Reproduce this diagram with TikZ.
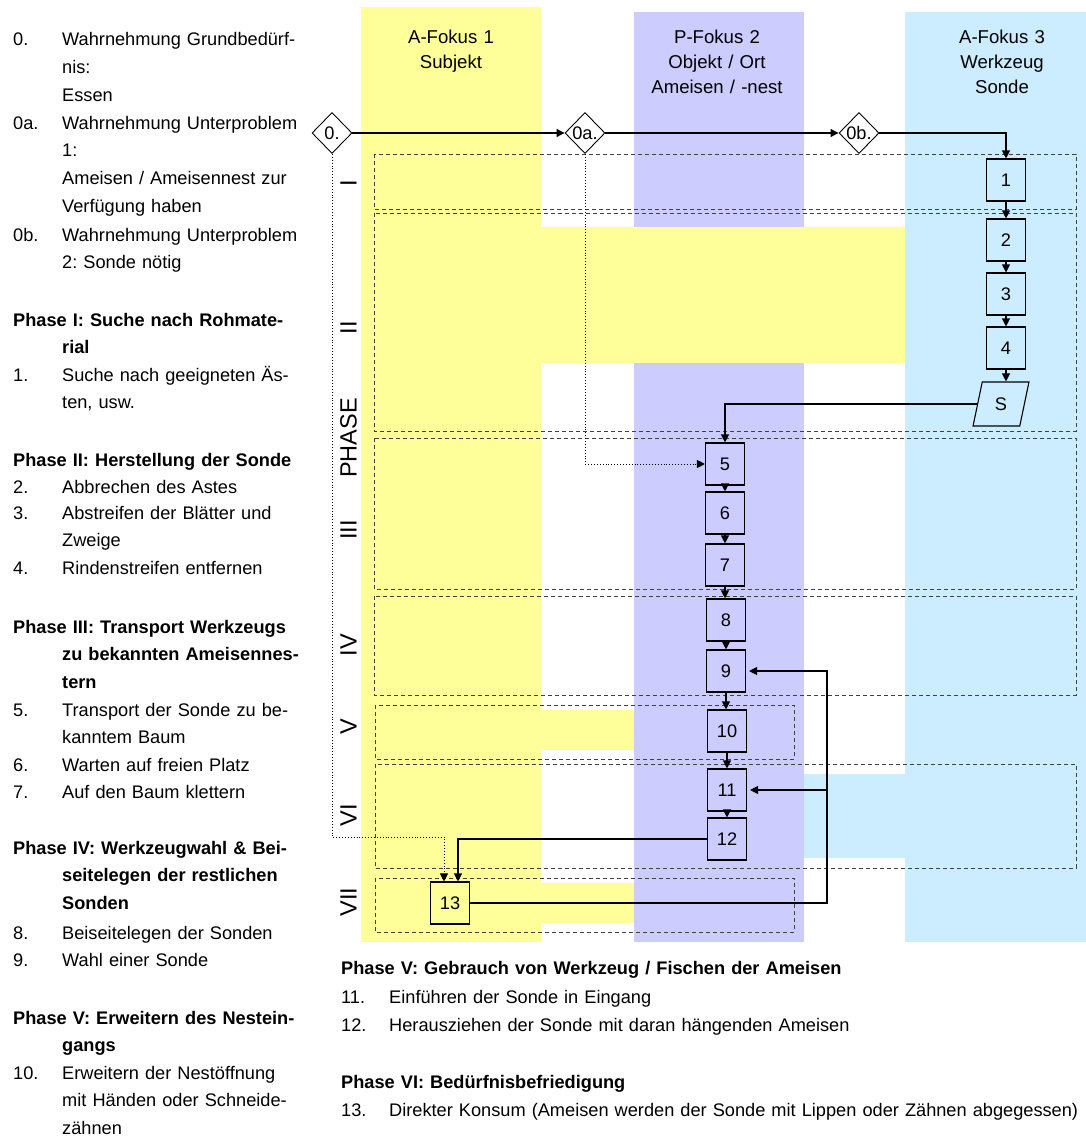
\documentclass[tikz,border=0pt]{standalone}
\usepackage{fontspec}
\setmainfont{Liberation Sans}
\usetikzlibrary{shapes.geometric,arrows.meta}
\definecolor{fokusgelb}{HTML}{FFFF99}
\definecolor{fokuslila}{HTML}{CCCCFF}
\definecolor{fokusblau}{HTML}{CCECFF}
\newcommand{\lfont}{\fontsize{18.2}{27.8}\selectfont}
\newcommand{\kfont}{\fontsize{18.6}{25}\selectfont}
\newcommand{\einr}{\hspace*{49pt}}
\frenchspacing

\begin{document}
\begin{tikzpicture}[x=1pt, y=-1pt,
    num/.style={anchor=base west, inner sep=0pt, font=\lfont},
    txt/.style={anchor=base west, inner sep=0pt, text width=300pt, align=left, font=\lfont},
    kopf/.style={anchor=base, inner sep=0pt, text width=180pt, align=center, font=\kfont},
    phase/.style={rotate=90, inner sep=0pt, font=\fontsize{23.5}{28}\selectfont},
    schritt/.style={draw, line width=1.1pt, minimum width=39pt, minimum height=42pt, inner sep=0pt, font=\lfont},
    raute/.style={draw, diamond, aspect=1, line width=0.9pt, minimum width=40pt, minimum height=41pt, inner sep=0pt, font=\lfont},
    sonde/.style={draw, trapezium, trapezium left angle=77, trapezium right angle=103, trapezium stretches=true,
        line width=1.1pt, minimum width=56pt, minimum height=44pt, inner sep=0pt, font=\lfont},
    rahmen/.style={draw=black!75, line width=1pt, dash pattern=on 4pt off 3pt},
    arrow/.style={-{Triangle[length=8pt,width=8pt]}, line width=1.1pt},
    punkt/.style={-{Triangle[length=8pt,width=8pt]}, line width=0.9pt, dotted}
]
    \useasboundingbox (0,0) rectangle (1086,1137);

    % Spalten und Baender
    \fill[fokusgelb] (361,7) rectangle (541,942);
    \fill[fokuslila] (634,12) rectangle (804,942);
    \fill[fokusblau] (905,12) rectangle (1086,942);
    \fill[fokusgelb] (541,227) rectangle (905,363);
    \fill[fokusgelb] (541,710) rectangle (634,750);
    \fill[fokusblau] (804,774) rectangle (905,858);
    \fill[fokusgelb] (541,883) rectangle (634,923);

    \node[kopf] (kopf1) at (451,44) {A-Fokus 1\\Subjekt};
    \node[kopf] (kopf2) at (717,44) {P-Fokus 2\\Objekt / Ort\\Ameisen / -nest};
    \node[kopf] (kopf3) at (1002,44) {A-Fokus 3\\Werkzeug\\Sonde};

    % Phasenrahmen
    \draw[rahmen] (374,154) rectangle (1076,209);
    \draw[rahmen] (374,213) rectangle (1076,431);
    \draw[rahmen] (374,438) rectangle (1076,589);
    \draw[rahmen] (374,596) rectangle (1076,695);
    \draw[rahmen] (375,705) rectangle (794,759);
    \draw[rahmen] (375,764) rectangle (1076,868);
    \draw[rahmen] (375,878) rectangle (794,932);

    \node[phase] (ph1) at (348.5,183) {I};
    \node[phase] (ph2) at (348.5,328) {II};
    \node[phase] (phname) at (348.5,438) {PHASE};
    \node[phase] (ph3) at (348.5,530) {III};
    \node[phase] (ph4) at (348.5,645) {IV};
    \node[phase] (ph5) at (348.5,727) {V};
    \node[phase] (ph6) at (348.5,815) {VI};
    \node[phase] (ph7) at (348.5,902) {VII};

    % Ablauf
    \node[raute] (d0) at (332,133) {0.};
    \node[raute] (d0a) at (585,133) {0a.};
    \node[raute] (d0b) at (859,133) {0b.};
    \node[schritt] (s1) at (1006,180) {1};
    \node[schritt] (s2) at (1006,240) {2};
    \node[schritt] (s3) at (1006,294) {3};
    \node[schritt] (s4) at (1006,348) {4};
    \node[sonde] (sS) at (1001,404) {S};
    \node[schritt] (s5) at (725,464) {5};
    \node[schritt] (s6) at (725,513) {6};
    \node[schritt] (s7) at (725,565) {7};
    \node[schritt] (s8) at (726,620) {8};
    \node[schritt] (s9) at (726,671) {9};
    \node[schritt] (s10) at (727,731) {10};
    \node[schritt] (s11) at (727,790) {11};
    \node[schritt] (s12) at (727,839) {12};
    \node[schritt] (s13) at (450,903) {13};

    \draw[arrow] (d0) -- (d0a);
    \draw[arrow] (d0a) -- (d0b);
    \draw[arrow] (d0b.east) -| (s1.north);
    \foreach \a/\b in {s1/s2, s2/s3, s3/s4, s4/sS, s5/s6, s6/s7, s7/s8, s8/s9, s9/s10, s10/s11, s11/s12}
        \draw[arrow] (\a.south) -- (\a.south |- \b.north);
    \draw[arrow] (sS.west) -| (s5.north);
    \draw[punkt] (d0a.south) |- (s5.west);
    \coordinate (umweg) at (332,837);
    \draw[punkt] (d0.south) -- (umweg) -| ([xshift=-6pt]s13.north);
    \draw[arrow] (s12.west) -| ([xshift=8pt]s13.north);
    \coordinate (rueck) at (827,903);
    \draw[arrow] (s13.east) -- (rueck) |- ([xshift=3pt]s9.east);
    \draw[arrow] (rueck |- s11.east) -- ([xshift=3pt]s11.east);

    % Legende links
    \node[num] (n0) at (13,46) {0.};
    \node[txt] (t0) at (62,46) {Wahrnehmung Grundbedürf-\\nis:\\Essen};
    \node[num] (n0a) at (13,129) {0a.};
    \node[txt] (t0a) at (62,129) {Wahrnehmung Unterproblem\\1:\\Ameisen / Ameisennest zur\\Verfügung haben};
    \node[num] (n0b) at (13,241) {0b.};
    \node[txt] (t0b) at (62,241) {Wahrnehmung Unterproblem\\2: Sonde nötig};

    \node[txt] (h1) at (13,326) {\bfseries Phase I: Suche nach Rohmate-\\\einr rial};
    \node[num] (n1) at (13,381) {1.};
    \node[txt] (t1) at (62,381) {Suche nach geeigneten Äs-\\ten, usw.};

    \node[txt] (h2) at (13,466) {\bfseries Phase II: Herstellung der Sonde};
    \node[num] (n2) at (13,493) {2.};
    \node[txt] (t2) at (62,493) {Abbrechen des Astes};
    \node[num] (n3) at (13,519) {3.};
    \node[txt] (t3) at (62,519) {Abstreifen der Blätter und\\Zweige};
    \node[num] (n4) at (13,574) {4.};
    \node[txt] (t4) at (62,574) {Rindenstreifen entfernen};

    \node[txt] (h3) at (13,633) {\bfseries Phase III: Transport Werkzeugs\\\einr zu bekannten Ameisennes-\\\einr tern};
    \node[num] (n5) at (13,716) {5.};
    \node[txt] (t5) at (62,716) {Transport der Sonde zu be-\\kanntem Baum};
    \node[num] (n6) at (13,771) {6.};
    \node[txt] (t6) at (62,771) {Warten auf freien Platz};
    \node[num] (n7) at (13,798) {7.};
    \node[txt] (t7) at (62,798) {Auf den Baum klettern};

    \node[txt] (h4) at (13,854) {\bfseries Phase IV: Werkzeugwahl \& Bei-\\\einr seitelegen der restlichen\\\einr Sonden};
    \node[num] (n8) at (13,939) {8.};
    \node[txt] (t8) at (62,939) {Beiseitelegen der Sonden};
    \node[num] (n9) at (13,966) {9.};
    \node[txt] (t9) at (62,966) {Wahl einer Sonde};

    \node[txt] (h5) at (13,1024) {\bfseries Phase V: Erweitern des Nestein-\\\einr gangs};
    \node[num] (n10) at (13,1079) {10.};
    \node[txt] (t10) at (62,1079) {Erweitern der Nestöffnung\\mit Händen oder Schneide-\\zähnen};

    % Legende unten
    \node[txt, text width=730pt] (h6) at (341,974) {\bfseries Phase V: Gebrauch von Werkzeug / Fischen der Ameisen};
    \node[num] (n11) at (341,1003) {11.};
    \node[txt, text width=690pt] (t11) at (389,1003) {Einführen der Sonde in Eingang};
    \node[num] (n12) at (341,1031) {12.};
    \node[txt, text width=690pt] (t12) at (389,1031) {Herausziehen der Sonde mit daran hängenden Ameisen};
    \node[txt, text width=730pt] (h7) at (341,1088) {\bfseries Phase VI: Bedürfnisbefriedigung};
    \node[num] (n13) at (341,1116) {13.};
    \node[txt, text width=720pt] (t13) at (389,1116) {Direkter Konsum (Ameisen werden der Sonde mit Lippen oder Zähnen abgegessen)};
\end{tikzpicture}
\end{document}
